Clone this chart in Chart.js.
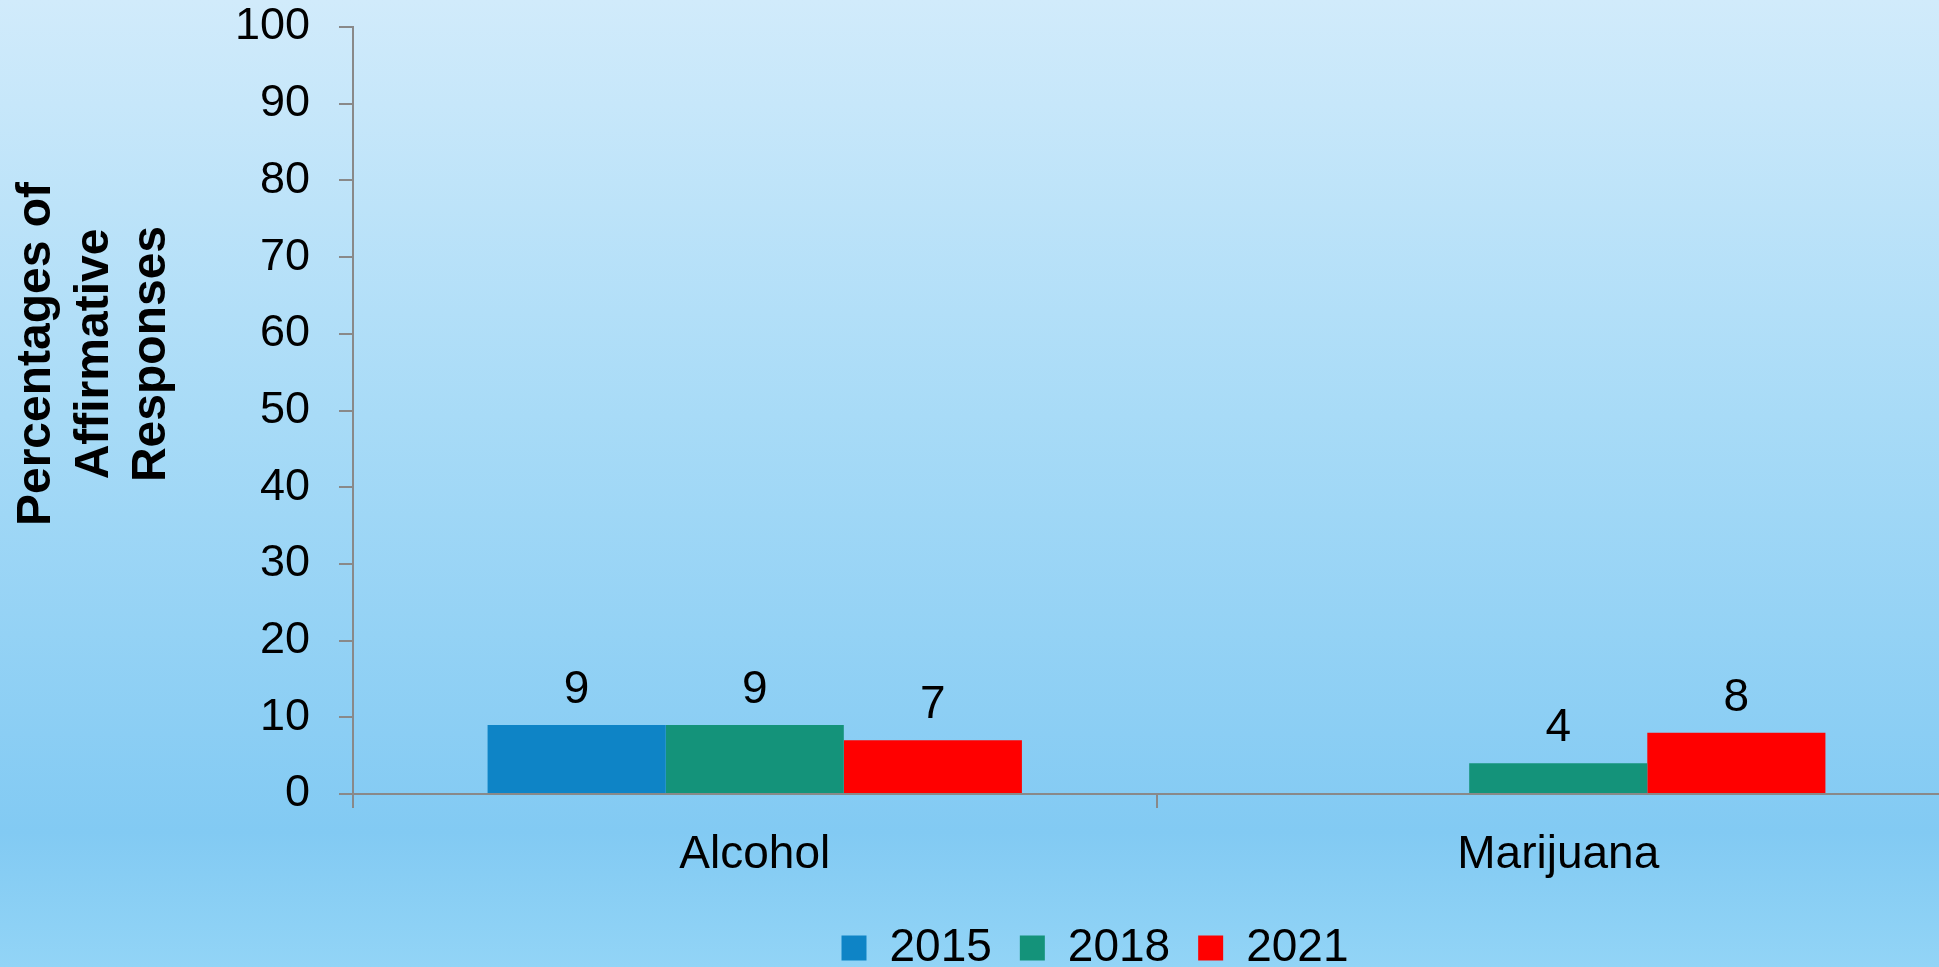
<!DOCTYPE html>
<html>
<head>
<meta charset="utf-8">
<script src="https://cdn.jsdelivr.net/npm/chart.js@4"></script>
<style>
  html, body { margin: 0; padding: 0; overflow: hidden; }
  #frame {
    width: 1939px; height: 967px; overflow: hidden; position: relative;
    background: linear-gradient(to bottom, #d1ebfb 0%, #a8dbf7 43%, #82caf3 86%, #92d4f6 100%);
  }
  #box { position: absolute; left: 0; top: 0; width: 1960px; height: 981px; }
</style>
</head>
<body>
<div id="frame"><div id="box"><canvas id="chart"></canvas></div></div>
<script>
const categories = ["Alcohol", "Marijuana"];
const years = ["2015", "2018", "2021"];
const values2015 = [9, null];
const values2018 = [9, 4];
const values2021 = [7, 8];
const yTitleLines = ["Percentages of", "Affirmative", "Responses"];
const seriesColors = ["#0e84c6", "#14937a", "#ff0000"];

const FONT = '"Liberation Sans", Arial, sans-serif';
const axisGray = "#898989";
Chart.defaults.font.family = FONT;
Chart.defaults.color = "#000";

// numbers above each bar
const valueLabels = {
  id: "valueLabels",
  afterDatasetsDraw(chart) {
    const ctx = chart.ctx;
    ctx.save();
    ctx.font = "46px " + FONT;
    ctx.fillStyle = "#000";
    ctx.textAlign = "center";
    ctx.textBaseline = "alphabetic";
    chart.data.datasets.forEach((ds, i) => {
      chart.getDatasetMeta(i).data.forEach((bar, j) => {
        const v = ds.data[j];
        if (v == null) return;
        ctx.fillText(String(v), bar.x, bar.y - 22);
      });
    });
    ctx.restore();
  }
};

// rotated three-line axis title, sits a bit above the plot's middle like the original
const yTitle = {
  id: "yTitle",
  afterDraw(chart) {
    const ctx = chart.ctx;
    ctx.save();
    ctx.font = "bold 48px " + FONT;
    ctx.fillStyle = "#000";
    ctx.textAlign = "center";
    ctx.textBaseline = "middle";
    yTitleLines.forEach((line, i) => {
      ctx.save();
      ctx.translate(37 + i * 57.5, 354);
      ctx.rotate(-Math.PI / 2);
      ctx.fillText(line, 0, 0);
      ctx.restore();
    });
    ctx.restore();
  }
};

const seriesValues = [values2015, values2018, values2021];

new Chart(document.getElementById("chart"), {
  type: "bar",
  data: {
    labels: categories,
    datasets: years.map((y, i) => ({
      label: y,
      data: seriesValues[i],
      backgroundColor: seriesColors[i],
      borderWidth: 0,
      categoryPercentage: 0.665,
      barPercentage: 1
    }))
  },
  options: {
    responsive: true,
    maintainAspectRatio: false,
    animation: false,
    layout: { padding: { left: 230, top: 0, right: 0, bottom: 0 } },
    plugins: {
      tooltip: { enabled: false },
      legend: {
        position: "bottom",
        labels: {
          boxWidth: 25,
          boxHeight: 25,
          padding: 28,
          color: "#000",
          font: { size: 46 }
        }
      }
    },
    scales: {
      x: {
        grid: {
          offset: true,
          drawOnChartArea: false,
          color: axisGray,
          lineWidth: 2,
          tickLength: 14
        },
        border: { color: axisGray, width: 2 },
        ticks: { padding: 20, color: "#000", font: { size: 46 } },
        afterFit(scale) { scale.height = 103; }
      },
      y: {
        min: 0,
        max: 100,
        grid: {
          drawOnChartArea: false,
          color: axisGray,
          lineWidth: 2,
          tickLength: 14
        },
        border: { color: axisGray, width: 2 },
        ticks: { stepSize: 10, padding: 29, color: "#000", font: { size: 45 } },
        afterFit(scale) {
          scale.width = 123;
          scale.paddingTop = 27;
          scale.paddingBottom = 0;
        }
      }
    }
  },
  plugins: [valueLabels, yTitle]
});
</script>
</body>
</html>
